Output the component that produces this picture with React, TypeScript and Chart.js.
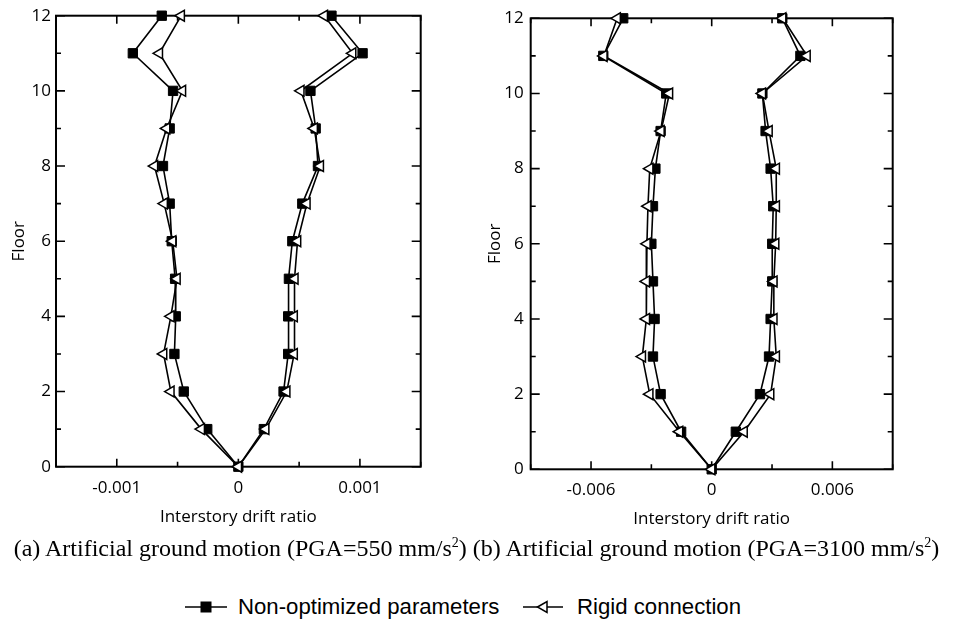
import React, { useEffect, useRef } from 'react';
import { Chart, registerables } from 'chart.js';

Chart.register(...registerables);

// Floors (y axis)
const floors = [0, 1, 2, 3, 4, 5, 6, 7, 8, 9, 10, 11, 12];
const yLabelValues = [0, 2, 4, 6, 8, 10, 12];

// (a) PGA = 550 mm/s2 — index = floor
const aNonOptNeg = [0, -0.000256, -0.000449, -0.000526, -0.000515, -0.00052, -0.000548, -0.000565, -0.00062, -0.000565, -0.000537, -0.000868, -0.00063];
const aNonOptPos = [0, 0.00021, 0.000372, 0.00041, 0.00041, 0.000416, 0.000444, 0.000526, 0.000655, 0.000636, 0.000593, 0.001022, 0.000766];
const aRigidNeg = [0, -0.000305, -0.000555, -0.000615, -0.000555, -0.000505, -0.00054, -0.00061, -0.00069, -0.00059, -0.00046, -0.00065, -0.00047];
const aRigidPos = [0, 0.000225, 0.000398, 0.000459, 0.000459, 0.000465, 0.000487, 0.000564, 0.000674, 0.000624, 0.000514, 0.00094, 0.000707];
const aXLabelValues = [-0.001, 0, 0.001];

// (b) PGA = 3100 mm/s2
const bNonOptNeg = [0, -0.00152, -0.00254, -0.00292, -0.00284, -0.00292, -0.003, -0.00292, -0.0028, -0.00254, -0.00226, -0.00539, -0.0044];
const bNonOptPos = [0, 0.0012, 0.0024, 0.00285, 0.00293, 0.00301, 0.00301, 0.00306, 0.00293, 0.00268, 0.00252, 0.00441, 0.00351];
const bRigidNeg = [0, -0.0016, -0.00308, -0.00345, -0.00325, -0.00325, -0.00322, -0.00317, -0.00308, -0.00252, -0.0021, -0.00536, -0.0047];
const bRigidPos = [0, 0.00161, 0.00293, 0.00321, 0.00309, 0.00309, 0.00318, 0.00321, 0.00321, 0.00285, 0.00252, 0.00474, 0.00353];
const bXLabelValues = [-0.006, 0, 0.006];

const seriesNames = ['Non-optimized parameters', 'Rigid connection'];

function loop(neg: number[], pos: number[]) {
  const pts: { x: number; y: number }[] = [];
  for (let i = floors.length - 1; i >= 0; i--) pts.push({ x: neg[i], y: floors[i] });
  for (let i = 1; i < floors.length; i++) pts.push({ x: pos[i], y: floors[i] });
  return pts;
}

function fmt(v: number) {
  if (Math.abs(v) < 1e-12) return '0';
  return v.toFixed(3);
}

const framePlugin = {
  id: 'frame',
  beforeDatasetsDraw(chart: any) {
    const { ctx, chartArea } = chart;
    const { left, right, top, bottom } = chartArea;
    const xs = chart.scales.x;
    const ys = chart.scales.y;
    ctx.save();
    ctx.strokeStyle = '#000';
    ctx.lineWidth = 1.6;
    xs.ticks.forEach((t: any) => {
      const px = xs.getPixelForValue(t.value);
      const len = t.label !== '' ? 8 : 5;
      ctx.beginPath();
      ctx.moveTo(px, bottom);
      ctx.lineTo(px, bottom - len);
      ctx.moveTo(px, top);
      ctx.lineTo(px, top + len);
      ctx.stroke();
    });
    ys.ticks.forEach((t: any) => {
      const py = ys.getPixelForValue(t.value);
      const len = t.label !== '' ? 9 : 5;
      ctx.beginPath();
      ctx.moveTo(left, py);
      ctx.lineTo(left + len, py);
      ctx.moveTo(right, py);
      ctx.lineTo(right - len, py);
      ctx.stroke();
    });
    ctx.lineWidth = 2;
    ctx.strokeRect(left, top, right - left, bottom - top);
    ctx.restore();
  },
};

interface PanelProps {
  nonNeg: number[];
  nonPos: number[];
  rigNeg: number[];
  rigPos: number[];
  xMin: number;
  xMax: number;
  xStep: number;
  xLabels: number[];
  width: number;
  height: number;
  left: number;
  yAxisWidth: number;
  padTop: number;
  padRight: number;
  padBottom: number;
  xAxisHeight: number;
  yLabelPad: number;
  yTitlePad: number;
}

const tickFont = { family: '"Open Sans", sans-serif', size: 17 };

function Panel(p: PanelProps) {
  const ref = useRef<HTMLCanvasElement>(null);
  useEffect(() => {
    if (!ref.current) return;
    const chart = new Chart(ref.current, {
      type: 'scatter',
      data: {
        datasets: [
          {
            label: seriesNames[1],
            data: loop(p.rigNeg, p.rigPos),
            showLine: true,
            borderColor: '#000',
            borderWidth: 1.6,
            pointStyle: 'triangle',
            rotation: -90,
            pointRadius: 6.3,
            pointBackgroundColor: '#fff',
            pointBorderColor: '#000',
            pointBorderWidth: 1.5,
            clip: false,
            order: 0,
          } as any,
          {
            label: seriesNames[0],
            data: loop(p.nonNeg, p.nonPos),
            showLine: true,
            borderColor: '#000',
            borderWidth: 1.6,
            pointStyle: 'rect',
            pointRadius: 6.6,
            pointBackgroundColor: '#000',
            pointBorderColor: '#000',
            pointBorderWidth: 1,
            clip: false,
            order: 1,
          } as any,
        ],
      },
      options: {
        responsive: false,
        animation: false,
        devicePixelRatio: 1,
        layout: { padding: { top: p.padTop, right: p.padRight, bottom: p.padBottom, left: 0 } },
        plugins: { legend: { display: false }, tooltip: { enabled: false } },
        scales: {
          x: {
            type: 'linear',
            min: p.xMin,
            max: p.xMax,
            grid: { display: false, drawTicks: false },
            border: { display: false },
            ticks: {
              stepSize: p.xStep,
              autoSkip: false,
              maxRotation: 0,
              padding: 11,
              color: '#000',
              font: tickFont,
              callback: (v: any) => {
                const m = p.xLabels.find((l) => Math.abs(l - Number(v)) < p.xStep * 1e-3);
                return m === undefined ? '' : fmt(m);
              },
            },
            title: {
              display: true,
              text: 'Interstory drift ratio',
              color: '#000',
              font: tickFont,
              padding: { top: 0, bottom: 0 },
            },
            afterFit: (s: any) => {
              s.height = p.xAxisHeight;
            },
          },
          y: {
            type: 'linear',
            min: 0,
            max: 12,
            grid: { display: false, drawTicks: false },
            border: { display: false },
            ticks: {
              stepSize: 1,
              autoSkip: false,
              padding: p.yLabelPad,
              color: '#000',
              font: tickFont,
              callback: (v: any) => (yLabelValues.includes(Number(v)) ? String(v) : ''),
            },
            title: {
              display: true,
              text: 'Floor',
              color: '#000',
              font: tickFont,
              padding: { top: p.yTitlePad, bottom: 0 },
            },
            afterFit: (s: any) => {
              s.width = p.yAxisWidth;
            },
          },
        },
      } as any,
      plugins: [framePlugin],
    });
    return () => chart.destroy();
  }, []);
  return (
    <canvas
      ref={ref}
      width={p.width}
      height={p.height}
      style={{ position: 'absolute', left: p.left, top: 0, width: p.width, height: p.height }}
    />
  );
}

function LegendMarker({ kind, w }: { kind: 'rect' | 'tri'; w: number }) {
  const c = w / 2;
  return (
    <svg width={w} height={16} style={{ display: 'block' }}>
      <line x1={0} y1={8} x2={w} y2={8} stroke="#000" strokeWidth={1.6} />
      {kind === 'rect' ? (
        <rect x={c - 5.5} y={2.5} width={11} height={11} fill="#000" />
      ) : (
        <polygon points={`${c - 5.5},8 ${c + 4},2.5 ${c + 4},13.5`} fill="#fff" stroke="#000" strokeWidth={1.5} />
      )}
    </svg>
  );
}

const legendText: React.CSSProperties = {
  position: 'absolute',
  top: 0,
  fontFamily: '"Liberation Sans", Arial, sans-serif',
  fontSize: 22.2,
  lineHeight: '26px',
  whiteSpace: 'nowrap',
  color: '#000',
};

export default function App() {
  const capStyle: React.CSSProperties = { fontSize: 14, position: 'relative', top: -9 };
  return (
    <div style={{ position: 'absolute', left: 0, top: 0, width: 953, height: 620, background: '#fff' }}>
      <Panel
        nonNeg={aNonOptNeg}
        nonPos={aNonOptPos}
        rigNeg={aRigidNeg}
        rigPos={aRigidPos}
        xMin={-0.0015}
        xMax={0.0015}
        xStep={0.0005}
        xLabels={aXLabelValues}
        width={470}
        height={540}
        left={0}
        yAxisWidth={56}
        padTop={15.7}
        padRight={49.3}
        padBottom={12.6}
        xAxisHeight={60.7}
        yLabelPad={5}
        yTitlePad={9.3}
      />
      <Panel
        nonNeg={bNonOptNeg}
        nonPos={bNonOptPos}
        rigNeg={bRigidNeg}
        rigPos={bRigidPos}
        xMin={-0.009}
        xMax={0.009}
        xStep={0.003}
        xLabels={bXLabelValues}
        width={483}
        height={540}
        left={470}
        yAxisWidth={60.7}
        padTop={18.3}
        padRight={60.3}
        padBottom={10.8}
        xAxisHeight={59.9}
        yLabelPad={7}
        yTitlePad={14.5}
      />
      <div
        style={{
          position: 'absolute',
          left: 0,
          top: 536,
          width: 953,
          textAlign: 'center',
          whiteSpace: 'nowrap',
          fontFamily: '"Liberation Serif", "Times New Roman", serif',
          fontSize: 24,
          lineHeight: '24px',
          color: '#000',
        }}
      >
        (a) Artificial ground motion (PGA=550 mm/s<span style={capStyle}>2</span>) (b) Artificial ground motion (PGA=3100 mm/s<span style={capStyle}>2</span>)
      </div>
      <div style={{ position: 'absolute', left: 0, top: 594, width: 953, height: 26 }}>
        <div style={{ position: 'absolute', left: 185, top: 5 }}>
          <LegendMarker kind="rect" w={42} />
        </div>
        <span style={{ ...legendText, left: 238 }}>{seriesNames[0]}</span>
        <div style={{ position: 'absolute', left: 523, top: 5 }}>
          <LegendMarker kind="tri" w={40} />
        </div>
        <span style={{ ...legendText, left: 577 }}>{seriesNames[1]}</span>
      </div>
    </div>
  );
}
